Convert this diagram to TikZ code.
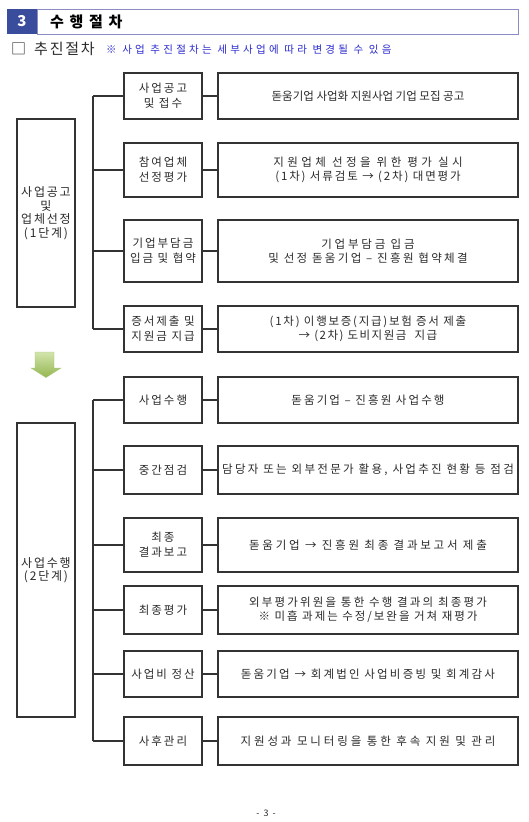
\documentclass[tikz,border=0pt]{standalone}
\usepackage{fontspec}
\setmainfont{Noto Sans CJK KR}
\newfontfamily\krwide[LetterSpace=17]{Noto Sans CJK KR}
\newfontfamily\krphase[LetterSpace=15]{Noto Sans CJK KR}
\newfontfamily\krnote[LetterSpace=31]{Noto Sans CJK KR}
\newfontfamily\krtitle[LetterSpace=38]{Noto Sans CJK KR}
\newfontfamily\krsub[LetterSpace=12]{Noto Sans CJK KR}
\usetikzlibrary{backgrounds, arrows.meta, positioning, calc}
\definecolor{hdblue}{HTML}{3A4C9C}
\definecolor{hdline}{HTML}{8C8CC4}
\definecolor{boxline}{HTML}{333333}
\definecolor{txtgray}{HTML}{2A2A2A}
\definecolor{notblue}{HTML}{2B2BD0}
\definecolor{arrtop}{HTML}{D2E4AC}
\definecolor{arrbot}{HTML}{93B650}
\definecolor{arredge}{HTML}{A9C97C}
% letter spacing for one line
\newcommand{\lsp}[2]{{\addfontfeature{LetterSpace=#1}#2}}
\tikzset{
  phase/.style = {draw=boxline, fill=white, line width=1.3pt, minimum width=58pt,
    inner sep=2pt, align=center, text=txtgray, font=\krphase\fontsize{12}{13.5}\selectfont},
  stage/.style = {draw=boxline, fill=white, line width=1.3pt, minimum width=78pt,
    inner sep=1pt, align=center, text=txtgray, font=\krwide\fontsize{11.5}{15}\selectfont},
  detail/.style = {draw=boxline, fill=white, line width=1.3pt, minimum width=300pt,
    inner sep=1pt, align=center, text=txtgray, font=\fontsize{11.5}{14.5}\selectfont},
  link/.style = {draw=boxline, line width=1.4pt},
  every picture/.style = {background rectangle/.style={fill=white},
    show background rectangle}
}

\begin{document}
\begin{tikzpicture}[x=1pt, y=-1pt]
  \useasboundingbox (0,0) rectangle (529,822);
  % header
  \node [draw=hdline, line width=1pt, minimum width=481pt, minimum height=25pt,
    inner sep=0pt] (hbar) at (277.5,21.5) {};
  \node [fill=hdblue, minimum width=30pt, minimum height=25pt, inner sep=0pt,
    text=white, font=\bfseries\fontsize{15}{15}\selectfont] (hnum) at (22,21.5) {3};
  \node [anchor=west, font=\krtitle\bfseries\fontsize{15}{15}\selectfont,
    inner sep=0pt] (htitle) at (50,21.5) {수행절차};
  \node [anchor=west, inner sep=0pt, text=txtgray,
    font=\krsub\fontsize{15}{16}\selectfont] (sub) at (11,49) {□\hspace{8pt}추진절차};
  \node [anchor=west, inner sep=0pt, text=notblue,
    font=\krnote\fontsize{10.5}{11}\selectfont] (note) at (106,50)
    {※ 사업 추진절차는 세부사업에 따라 변경될 수 있음};

  % 1단계
  \node [phase, minimum height=188pt] (p1) at (46,213) {사업공고\\및\\업체선정\\(1단계)};
  \coordinate (b1t) at (93,96);
  \coordinate (b1b) at (93,329);
  \draw [link] (b1t) -- (b1b);
  \foreach \y/\h/\s/\d [count=\i] in {
      96/46/{사업공고\\및 접수}/{\lsp{0}{돋움기업 사업화 지원사업 기업 모집 공고}},
      170/54/{참여업체\\선정평가}/{\lsp{30}{지원업체 선정을 위한 평가 실시}\\\lsp{16}{(1차) 서류검토 → (2차) 대면평가}},
      251/62/{기업부담금\\입금 및 협약}/{\lsp{24}{기업부담금 입금}\\\lsp{20}{및 선정 돋움기업 – 진흥원 협약체결}},
      329/46/{증서제출 및\\지원금 지급}/{\lsp{15}{(1차) 이행보증(지급)보험 증서 제출}\\\lsp{13}{→ (2차) 도비지원금 \ 지급}}} {
    \node [stage, minimum height=\h pt] (a\i) at (163,\y) {\s};
    \node [detail, minimum height=\h pt] (ad\i) at (368,\y) {\d};
    \draw [link] (a\i.west -| b1t) -- (a\i.west);
    \draw [link] (a\i.east) -- (ad\i.west);
  }

  % arrow between phases
  \shade [top color=arrtop, bottom color=arrbot, draw=arredge, line width=0.4pt]
    (35,352) -- (54,352) -- (54,368) -- (61,368) -- (46,377.5) -- (31,368)
    -- (35,368) -- cycle;

  % 2단계
  \node [phase, minimum height=294pt] (p2) at (46,570) {사업수행\\(2단계)};
  \coordinate (b2t) at (93,400);
  \coordinate (b2b) at (93,741);
  \draw [link] (b2t) -- (b2b);
  \foreach \y/\h/\s/\d [count=\i] in {
      400/46/{사업수행}/{\lsp{18}{돋움기업 – 진흥원 사업수행}},
      470/48/{중간점검}/{\lsp{20}{담당자 또는 외부전문가 활용, 사업추진 현황 등 점검}},
      545/54/{최종\\결과보고}/{\lsp{24}{돋움기업 → 진흥원 최종 결과보고서 제출}},
      610/48/{최종평가}/{\lsp{19}{외부평가위원을 통한 수행 결과의 최종평가}\\\lsp{17}{※ 미흡 과제는 수정/보완을 거쳐 재평가}},
      674/46/{사업비 정산}/{\lsp{19}{돋움기업 → 회계법인 사업비증빙 및 회계감사}},
      741/48/{사후관리}/{\lsp{25}{지원성과 모니터링을 통한 후속 지원 및 관리}}} {
    \node [stage, minimum height=\h pt] (c\i) at (163,\y) {\s};
    \node [detail, minimum height=\h pt] (cd\i) at (368,\y) {\d};
    \draw [link] (c\i.west -| b2t) -- (c\i.west);
    \draw [link] (c\i.east) -- (cd\i.west);
  }

  \node [text=txtgray, font=\fontsize{9}{10}\selectfont] (pg) at (266,813) {-\ \ 3\ \ -};
\end{tikzpicture}
\end{document}
